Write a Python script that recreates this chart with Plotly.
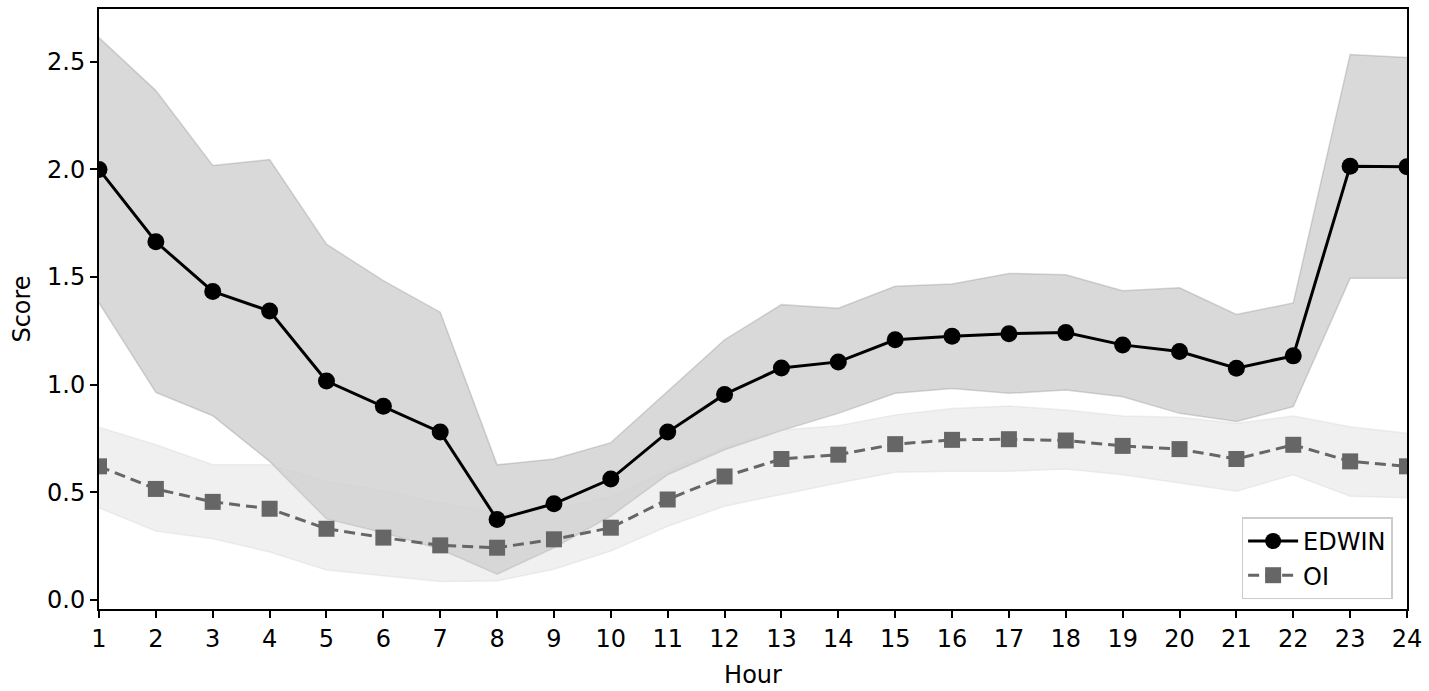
import plotly.graph_objects as go

hours = list(range(1, 25))

edwin_mean = [2.00, 1.664, 1.433, 1.342, 1.017, 0.90, 0.78, 0.374, 0.447, 0.562, 0.78, 0.955,
              1.078, 1.106, 1.209, 1.225, 1.237, 1.242, 1.185, 1.154, 1.077, 1.134, 2.015, 2.012]
edwin_upper = [2.612, 2.366, 2.018, 2.046, 1.653, 1.483, 1.337, 0.628, 0.655, 0.731, 0.97, 1.209,
               1.372, 1.355, 1.457, 1.468, 1.517, 1.511, 1.437, 1.450, 1.326, 1.380, 2.534, 2.520]
edwin_lower = [1.380, 0.964, 0.856, 0.644, 0.377, 0.313, 0.236, 0.120, 0.243, 0.39, 0.582, 0.698,
               0.787, 0.867, 0.960, 0.983, 0.960, 0.975, 0.944, 0.867, 0.829, 0.898, 1.494, 1.494]

oi_mean = [0.621, 0.516, 0.456, 0.424, 0.331, 0.290, 0.254, 0.243, 0.282, 0.336, 0.467, 0.574,
           0.655, 0.675, 0.724, 0.744, 0.747, 0.741, 0.716, 0.701, 0.655, 0.721, 0.644, 0.621]
oi_upper = [0.803, 0.721, 0.628, 0.628, 0.551, 0.505, 0.451, 0.40, 0.42, 0.48, 0.60, 0.71,
            0.79, 0.81, 0.86, 0.890, 0.901, 0.883, 0.855, 0.849, 0.821, 0.855, 0.805, 0.775]
oi_lower = [0.428, 0.320, 0.285, 0.223, 0.140, 0.112, 0.086, 0.089, 0.143, 0.228, 0.343, 0.436,
            0.490, 0.544, 0.593, 0.598, 0.598, 0.609, 0.582, 0.544, 0.505, 0.582, 0.482, 0.475]

y_ticks = [0.0, 0.5, 1.0, 1.5, 2.0, 2.5]
y_tick_labels = ["0.0", "0.5", "1.0", "1.5", "2.0", "2.5"]

FONT = "DejaVu Sans, Liberation Sans, sans-serif"
FS = 24

fig = go.Figure()

# EDWIN band
fig.add_trace(go.Scatter(x=hours, y=edwin_upper, mode="lines",
                         line=dict(color="rgba(128,128,128,0.3)", width=1.5),
                         showlegend=False, hoverinfo="skip"))
fig.add_trace(go.Scatter(x=hours, y=edwin_lower, mode="lines", fill="tonexty",
                         fillcolor="rgba(128,128,128,0.3)",
                         line=dict(color="rgba(128,128,128,0.3)", width=1.5),
                         showlegend=False, hoverinfo="skip"))
# OI band
fig.add_trace(go.Scatter(x=hours, y=oi_upper, mode="lines",
                         line=dict(color="rgba(211,211,211,0.34)", width=1.5),
                         showlegend=False, hoverinfo="skip"))
fig.add_trace(go.Scatter(x=hours, y=oi_lower, mode="lines", fill="tonexty",
                         fillcolor="rgba(211,211,211,0.34)",
                         line=dict(color="rgba(211,211,211,0.34)", width=1.5),
                         showlegend=False, hoverinfo="skip"))

fig.add_trace(go.Scatter(x=hours, y=edwin_mean, mode="lines+markers", name="EDWIN",
                         line=dict(color="black", width=3),
                         marker=dict(symbol="circle", size=17, color="black")))
fig.add_trace(go.Scatter(x=hours, y=oi_mean, mode="lines+markers", name="OI",
                         line=dict(color="#666666", width=3, dash="11px,6px"),
                         marker=dict(symbol="square", size=16, color="#666666")))

fig.update_layout(
    width=1429, height=691,
    margin=dict(l=99, r=21, t=7, b=81),
    paper_bgcolor="white", plot_bgcolor="white",
    font=dict(family=FONT, size=FS, color="black"),
    showlegend=True,
    legend=dict(x=0.989, y=0.016, xanchor="right", yanchor="bottom",
                traceorder="normal",
                bgcolor="white", bordercolor="#cccccc", borderwidth=1.5,
                font=dict(family=FONT, size=FS, color="black"),
                itemwidth=50, tracegroupgap=4),
)
fig.update_xaxes(
    range=[1, 24], tickmode="array", tickvals=hours, ticktext=[str(h) for h in hours],
    showline=True, linecolor="black", linewidth=2, mirror=True,
    ticks="outside", ticklen=7, tickwidth=1.5, tickcolor="black",
    showgrid=False, zeroline=False,
    title=dict(text="Hour", font=dict(family=FONT, size=FS), standoff=14),
    tickfont=dict(family=FONT, size=FS),
)
fig.update_yaxes(
    range=[-0.0416, 2.745], tickmode="array", tickvals=y_ticks, ticktext=y_tick_labels,
    showline=True, linecolor="black", linewidth=2, mirror=True,
    ticks="outside", ticklen=7, tickwidth=1.5, tickcolor="black",
    showgrid=False, zeroline=False,
    title=dict(text="Score", font=dict(family=FONT, size=FS), standoff=10),
    tickfont=dict(family=FONT, size=FS),
)

fig.write_html("out.html", config={"displayModeBar": False},
               post_script="document.body.style.margin='0';")
